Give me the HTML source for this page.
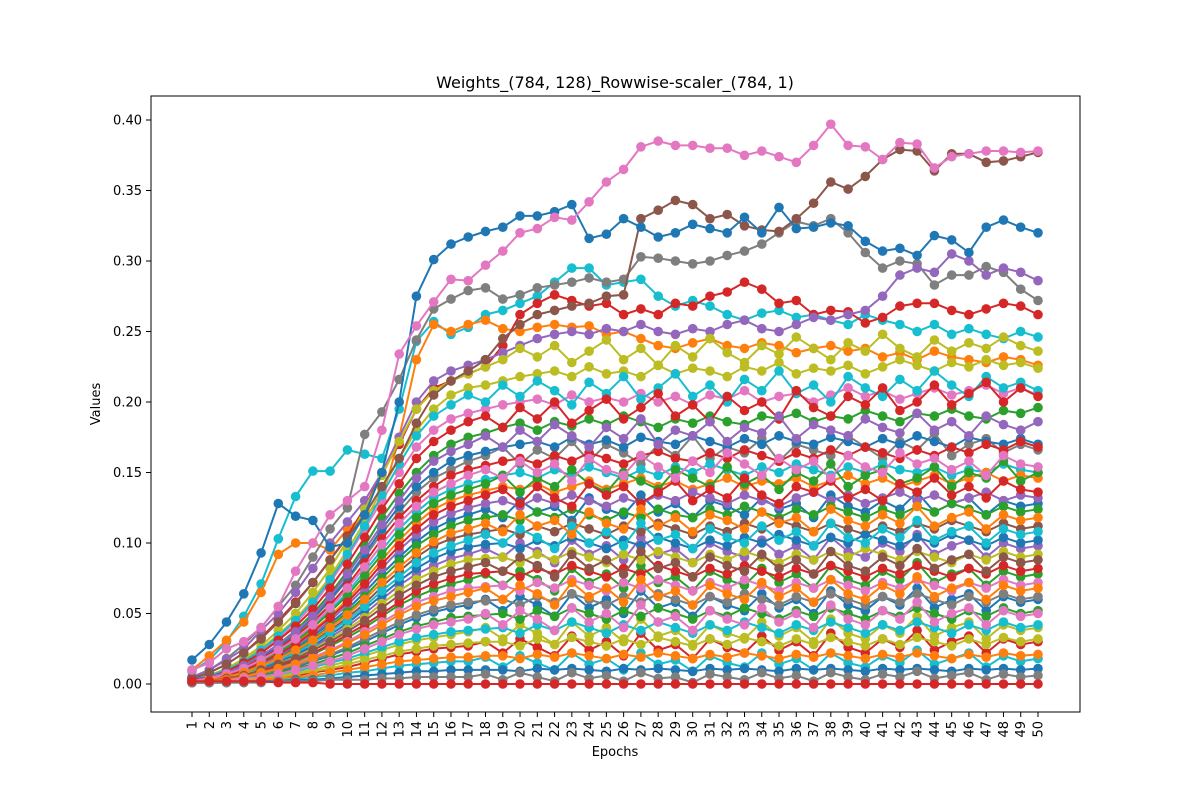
<!DOCTYPE html>
<html><head><meta charset="utf-8"><style>
body{margin:0;background:#fff;}
svg text{font-family:"DejaVu Sans","Liberation Sans",sans-serif;fill:#000;}
</style></head><body>
<svg id="chart" width="1200" height="800" viewBox="0 0 1200 800">
<rect width="1200" height="800" fill="#fff"/>
<g id="plot"></g>
<rect x="151" y="96" width="929" height="616" fill="none" stroke="#000" stroke-width="1"/>
<g id="axes"></g>
<text x="615" y="88" text-anchor="middle" font-size="16">Weights_(784, 128)_Rowwise-scaler_(784, 1)</text>
<text x="615" y="756" text-anchor="middle" font-size="13">Epochs</text>
<text x="100" y="404" text-anchor="middle" font-size="13" transform="rotate(-90 100 404)">Values</text>
</svg>
<script>
const epochs = Array.from({length:50},(_,i)=>i+1);
const yTicks = [0,0.05,0.10,0.15,0.20,0.25,0.30,0.35,0.40];
const palette = ["#1f77b4","#ff7f0e","#2ca02c","#d62728","#9467bd","#8c564b","#e377c2","#7f7f7f","#bcbd22","#17becf"];
const sCyanEarly=[9,17,30,48,71,103,133,151,151,166,163,160,195,243,257,248,253,262,265,270,275,285,295,295,283,285,287,275,268,272,268,262,258,263,265,260,262,258,255,262,258,255,250,255,248,252,248,245,250,246];
const sOrangeEarly=[10,20,31,44,65,92,100,100,95,110,120,130,175,230,255,250,255,258,252,250,253,255,253,254,248,250,245,240,238,242,245,240,238,242,240,235,238,240,236,238,232,235,230,236,232,230,228,232,230,226];
const sGray=[5,10,18,28,40,55,70,90,110,125,177,193,216,244,266,273,279,281,273,276,281,283,285,288,285,287,303,302,300,298,300,304,307,312,320,328,325,330,320,306,295,300,298,283,290,290,296,292,280,272];
const sRed=[4,8,14,22,33,45,58,72,88,105,125,150,170,195,210,215,220,225,240,262,270,276,272,268,270,262,266,262,270,268,275,278,285,280,270,272,262,265,264,256,260,268,270,270,265,262,266,270,268,262];
const sPurple=[5,10,17,25,38,50,65,82,100,115,130,150,175,200,215,222,226,230,235,240,245,248,250,248,252,250,255,250,248,252,250,255,258,252,250,255,260,258,262,265,275,290,295,292,305,300,290,295,292,286];
const s220=[3,6,11,17,25,35,46,60,76,95,115,138,160,180,195,205,210,212,215,218,220,222,218,225,220,222,218,226,220,224,222,218,225,222,228,220,224,222,226,220,225,230,226,222,228,225,230,226,228,224];
const s200=[3,6,10,16,23,32,43,56,72,90,110,130,150,168,180,188,192,195,198,200,202,198,205,200,203,200,206,200,204,198,205,202,208,200,204,206,200,205,210,204,208,202,206,210,205,208,212,206,210,205];
const s185=[3,5,9,14,20,28,38,50,64,80,98,118,135,150,162,170,175,178,182,185,180,186,183,188,184,190,186,182,188,185,190,186,184,190,188,192,186,190,188,194,190,186,192,190,195,190,188,194,192,196];
const s170=[2,5,8,13,19,27,36,47,60,75,92,110,126,140,150,158,162,165,168,170,172,168,175,170,173,168,175,172,170,176,172,168,174,170,176,172,170,175,172,168,174,170,176,172,168,175,172,170,174,170];
const s160=[2,4,8,12,18,25,34,44,56,70,86,103,118,130,140,148,152,155,158,160,156,162,158,164,160,156,162,165,160,158,164,160,166,162,158,164,160,166,162,168,164,160,166,162,168,164,170,166,172,168];
const s150=[2,4,7,11,16,23,31,41,52,65,80,95,110,122,132,138,142,145,148,150,146,152,148,154,150,146,152,148,154,150,156,152,148,154,150,156,152,148,154,150,156,152,150,154,148,152,150,156,152,150];
const s140=[2,4,7,10,15,21,29,38,48,60,74,88,102,114,124,130,134,137,140,138,142,136,140,144,138,142,146,140,144,138,142,146,140,144,142,146,140,144,148,142,146,140,144,148,142,146,150,144,148,146];
const s130=[2,3,6,9,14,20,27,35,45,56,68,82,95,106,115,121,125,128,130,126,132,128,134,130,126,132,128,134,130,136,132,128,134,130,126,132,136,130,134,128,132,136,130,134,128,132,136,130,134,132];
const s120=[2,3,6,9,13,18,25,32,41,51,62,75,87,98,106,112,116,118,120,116,122,118,124,120,116,122,118,124,120,118,124,120,126,122,118,124,120,126,122,118,124,120,126,122,128,124,120,126,122,124];
const s110=[1,3,5,8,12,17,23,30,38,47,57,69,80,90,98,103,106,108,110,106,112,108,114,110,106,112,108,114,110,106,112,108,114,110,116,112,108,114,110,106,112,108,114,110,116,112,108,114,110,112];
const s100=[1,3,5,8,11,16,21,27,35,43,53,63,73,82,89,94,97,99,100,96,102,98,104,100,96,102,98,104,100,96,102,98,104,100,106,102,98,104,100,106,102,98,104,100,106,102,98,104,100,102];
const s90=[1,2,4,7,10,14,19,25,31,39,47,57,66,74,80,85,88,89,90,86,92,88,94,90,86,92,88,94,90,86,92,88,94,90,86,92,88,94,90,96,92,88,94,90,86,92,88,94,90,92];
const s80=[1,2,4,6,9,13,17,22,28,35,42,50,58,66,71,75,78,79,80,76,82,78,84,80,76,82,78,84,80,76,82,78,84,80,76,82,78,84,80,76,82,78,84,80,76,82,78,84,80,82];
const s70=[1,2,4,6,8,11,15,19,24,30,37,44,51,58,62,66,68,69,70,66,72,68,74,70,66,72,68,74,70,66,72,68,74,70,66,72,68,74,70,66,72,68,74,70,66,72,68,74,70,72];
const s60=[1,2,3,5,7,10,13,17,21,26,32,38,44,49,53,56,58,59,60,56,62,58,64,60,56,62,58,64,60,56,62,58,64,60,56,62,58,64,60,56,62,58,64,60,56,62,58,64,60,62];
const s50=[1,2,3,4,6,8,11,14,18,22,27,32,37,41,44,47,48,49,50,46,52,48,54,50,46,52,48,54,50,46,52,48,54,50,46,52,48,54,50,46,52,48,54,50,46,52,48,54,50,52];
const s40=[1,1,2,3,5,7,9,12,15,18,22,26,30,33,35,37,38,39,40,36,42,38,44,40,36,42,38,44,40,36,42,38,44,40,36,42,38,44,40,36,42,38,44,40,36,42,38,44,40,42];
const s30=[1,1,2,3,4,5,7,9,11,14,17,20,23,25,27,28,29,30,30,27,32,28,33,30,27,32,28,33,30,27,32,28,33,30,27,32,28,33,30,27,32,28,33,30,27,32,28,33,30,32];
const s20=[1,1,1,2,3,4,5,6,8,10,12,14,16,17,18,19,19,20,20,18,21,19,22,20,18,21,19,22,20,18,21,19,22,20,18,21,19,22,20,18,21,19,22,20,18,21,19,22,20,21];
const s10=[1,1,1,1,2,2,3,3,4,5,6,7,8,9,9,10,10,10,10,9,11,10,11,10,9,11,10,11,10,9,11,10,11,10,9,11,10,11,10,9,11,10,11,10,9,11,10,11,10,11];
const n235=[3,6,11,18,27,38,50,65,82,102,124,148,172,195,208,215,220,225,230,238,232,240,228,236,244,230,238,226,240,232,245,235,228,240,234,246,238,230,242,236,248,238,232,244,236,242,238,246,240,236];
const n210=[3,6,10,16,24,34,45,58,74,92,112,134,156,176,190,198,205,200,212,204,215,208,198,214,206,218,202,210,220,204,212,200,216,208,222,206,212,200,218,210,204,216,208,222,212,204,218,210,214,208];
const n195=[3,5,9,15,22,31,41,53,68,85,104,124,142,160,172,180,186,190,182,196,188,200,185,194,202,188,196,206,190,198,186,204,194,200,188,208,196,190,204,198,210,194,200,212,198,206,214,200,210,204];
const n178=[2,5,8,13,20,28,37,48,62,78,95,113,130,146,158,165,170,176,168,180,172,184,176,168,182,174,188,170,180,176,186,172,182,178,190,174,184,180,176,188,182,178,192,180,186,176,190,184,180,186];
const n165=[2,4,8,12,18,26,35,46,59,74,90,107,122,136,146,152,158,162,168,156,166,160,172,158,170,164,156,170,162,176,160,168,164,174,158,170,166,162,176,168,160,172,166,178,162,170,174,164,170,166];
const n155=[2,4,7,11,17,24,32,42,54,68,83,99,114,126,136,142,148,152,146,158,150,156,144,160,152,148,162,154,146,158,150,164,156,148,160,152,158,146,162,154,150,164,156,160,152,158,148,162,156,154];
const n145=[2,4,7,11,16,22,30,40,51,63,77,92,106,118,128,134,138,142,148,136,146,140,152,142,136,150,144,138,152,146,140,154,142,148,138,150,144,156,140,148,152,142,146,154,140,150,146,158,144,150];
const n135=[2,4,6,10,15,21,28,37,47,58,71,85,98,110,120,126,130,134,138,128,140,132,126,142,134,140,128,136,144,130,138,132,146,134,128,140,136,144,132,138,130,142,136,146,134,140,132,144,138,136];
const n125=[2,3,6,9,14,19,26,34,43,53,65,78,90,101,110,116,120,124,118,130,122,126,116,132,124,120,134,122,128,118,130,126,120,132,124,128,118,134,126,122,130,124,136,122,128,132,120,130,126,128];
const n115=[1,3,5,8,13,18,24,31,40,49,60,72,83,93,101,107,110,114,108,120,112,116,106,122,114,110,124,112,118,108,120,116,110,122,114,118,108,124,116,112,120,114,126,112,118,122,110,120,116,118];
const n105=[1,3,5,8,12,17,22,29,37,45,55,66,76,86,93,98,102,106,100,110,104,96,112,100,108,98,114,102,106,96,110,104,100,112,102,108,98,114,104,100,110,104,116,102,108,112,100,110,106,108];
const n95=[1,2,4,7,11,15,20,26,33,41,50,60,70,78,84,89,92,96,90,100,94,86,102,92,98,88,104,92,96,86,100,94,90,102,92,98,88,104,94,90,100,94,106,92,98,102,90,100,96,98];
const n85=[1,2,4,6,10,14,18,24,30,37,45,54,63,70,76,80,83,86,80,90,84,76,92,82,88,78,94,82,86,76,90,84,80,92,82,88,78,94,84,80,90,84,96,82,88,92,80,90,86,88];
const n75=[1,2,4,6,9,12,16,21,27,33,40,48,56,62,67,71,74,78,70,80,74,66,82,72,78,68,84,72,76,66,80,74,70,82,72,78,68,84,74,70,80,74,86,72,78,82,70,80,76,78];
const n65=[1,2,3,5,8,11,14,18,23,29,35,42,49,55,59,62,65,68,60,70,64,56,72,62,68,58,74,62,66,56,70,64,60,72,62,68,58,74,64,60,70,64,76,62,68,72,60,70,66,68];
const n55=[1,2,3,4,7,9,12,16,20,25,30,36,42,47,51,54,56,60,52,62,56,48,64,54,60,50,66,54,58,48,62,56,52,64,54,60,50,66,56,52,62,56,68,54,60,64,52,62,58,60];
const n45=[1,1,2,4,5,7,10,13,16,20,25,30,35,39,42,44,46,50,42,52,46,38,54,44,50,40,56,44,48,38,52,46,42,54,44,50,40,56,46,42,52,46,58,44,50,54,42,52,48,50];
const n35=[1,1,2,3,4,6,8,10,13,16,20,24,28,31,33,35,37,40,32,42,36,28,44,34,40,30,46,34,38,28,42,36,32,44,34,40,30,46,36,32,42,36,48,34,40,44,32,42,38,40];
const n25=[1,1,2,2,3,4,6,8,10,12,15,18,21,23,25,26,27,30,22,32,26,20,34,24,30,20,36,24,28,18,32,26,22,34,24,30,20,36,26,22,32,26,38,24,30,34,22,32,28,30];
const n15=[1,1,1,2,2,3,4,5,6,8,9,11,13,14,15,16,16,19,12,20,15,10,22,14,18,10,22,14,17,9,20,15,12,22,14,18,10,22,15,12,20,15,24,14,18,22,12,20,16,18];
const n5=[1,1,1,1,1,2,2,2,3,3,3,4,4,5,5,5,5,7,3,8,5,2,8,4,6,2,8,4,5,1,7,5,3,8,4,6,2,8,5,3,7,5,9,4,6,8,3,7,5,6];
const sBrown=[4,8,14,22,32,44,57,72,88,104,120,140,160,185,205,215,222,230,245,255,262,265,268,270,275,276,330,336,343,340,330,333,325,322,321,330,341,356,351,360,372,379,378,364,376,376,370,371,374,377];
const sBlueTop=[17,28,44,64,93,128,119,116,97,100,120,150,200,275,301,312,317,321,324,332,332,335,340,316,319,330,324,317,320,326,323,320,331,320,338,323,324,327,325,314,307,309,304,318,315,306,324,329,324,320];
const sPinkTop=[10,15,25,30,40,55,80,100,120,130,140,180,234,254,271,287,286,297,307,320,323,331,329,342,356,365,381,385,382,382,380,380,375,378,374,370,382,397,382,381,372,384,383,366,374,376,378,378,377,378];
const sZero=[2,2,2,2,2,1,1,1,0,0,0,0,0,0,0,0,0,0,0,0,0,0,0,0,0,0,0,0,0,0,0,0,0,0,0,0,0,0,0,0,0,0,0,0,0,0,0,0,0,0];
const allSeries=[sCyanEarly,sOrangeEarly,sGray,sRed,sPurple,s220,n165,s200,n95,s185,n235,s170,n55,s160,n210,s150,n125,s140,n25,s130,n195,s120,n75,s110,n145,s100,n178,s90,n105,s80,n15,s70,n135,s60,n35,s50,n155,s40,n115,s30,n85,s20,n65,s10,n45,n5,sBrown,sBlueTop,sPinkTop,sZero];
const seriesColors=[9,1,7,3,4,8,7,6,4,2,8,0,0,3,9,9,0,1,3,4,3,2,2,5,2,0,4,8,9,3,9,6,3,7,8,2,6,9,1,8,5,1,1,0,6,7,5,0,6,3];

const NS="http://www.w3.org/2000/svg";
const xScale=e=>192+(e-1)*(1038-192)/49;
const yScale=v=>684-v*(684-120)/0.40;
const plot=document.getElementById('plot');
const axes=document.getElementById('axes');

allSeries.forEach((s,si)=>{
  const col=palette[seriesColors[si]];
  const g=document.createElementNS(NS,'g');
  
  
  const pts=s.map((v,i)=>xScale(epochs[i]).toFixed(1)+','+yScale(v/1000).toFixed(1)).join(' ');
  const pl=document.createElementNS(NS,'polyline');
  pl.setAttribute('points',pts);
  pl.setAttribute('fill','none');
  pl.setAttribute('stroke',col);
  pl.setAttribute('stroke-width','2');
  
  
  g.appendChild(pl);
  s.forEach((v,i)=>{
    const c=document.createElementNS(NS,'circle');
    c.setAttribute('cx',xScale(epochs[i]).toFixed(1));
    c.setAttribute('cy',yScale(v/1000).toFixed(1));
    c.setAttribute('r','4.8');
    c.setAttribute('fill',col);
    
    
    g.appendChild(c);
  });
  plot.appendChild(g);
});

yTicks.forEach(t=>{
  const y=yScale(t);
  const l=document.createElementNS(NS,'line');
  l.setAttribute('x1',146);l.setAttribute('x2',151);
  l.setAttribute('y1',y);l.setAttribute('y2',y);
  l.setAttribute('stroke','#000');
  
  
  axes.appendChild(l);
  const tx=document.createElementNS(NS,'text');
  tx.setAttribute('x',142);tx.setAttribute('y',y+4.5);
  tx.setAttribute('text-anchor','end');tx.setAttribute('font-size','13');
  tx.textContent=t.toFixed(2);
  
  
  axes.appendChild(tx);
});
epochs.forEach(e=>{
  const x=xScale(e);
  const l=document.createElementNS(NS,'line');
  l.setAttribute('x1',x);l.setAttribute('x2',x);
  l.setAttribute('y1',712);l.setAttribute('y2',717);
  l.setAttribute('stroke','#000');
  
  
  axes.appendChild(l);
  const tx=document.createElementNS(NS,'text');
  tx.setAttribute('x',x+4.5);tx.setAttribute('y',721);
  tx.setAttribute('text-anchor','end');tx.setAttribute('font-size','13');
  tx.setAttribute('transform','rotate(-90 '+(x+4.5)+' 721)');
  tx.textContent=String(e);
  
  
  axes.appendChild(tx);
});
</script>
</body></html>
